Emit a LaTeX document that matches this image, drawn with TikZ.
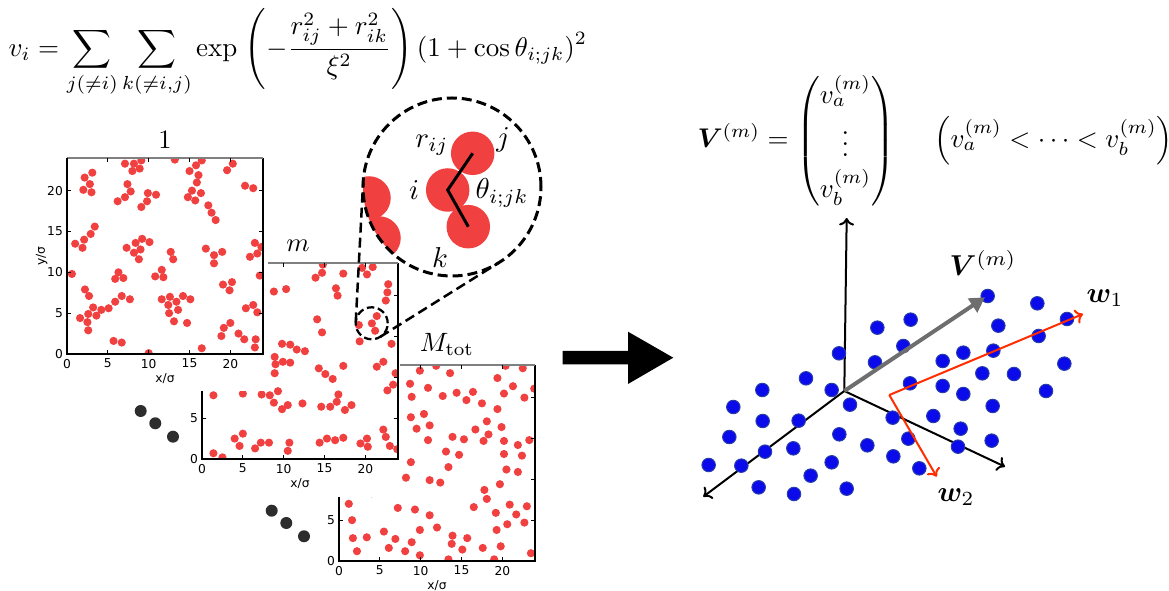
\documentclass[tikz,border=0pt]{standalone}
\usepackage{amsmath,bm}
\usepackage{fontspec}
\newfontfamily\tickfont{DejaVu Sans}
\usetikzlibrary{arrows.meta}
\definecolor{pred}{RGB}{240,64,64}
\definecolor{pblue}{RGB}{10,10,235}
\definecolor{pblueedge}{RGB}{40,60,170}
\definecolor{wred}{RGB}{255,45,0}
\definecolor{dotgray}{RGB}{45,45,45}
\definecolor{vgray}{RGB}{110,110,110}
\tikzset{
  part/.style={fill=pred},
  frame/.style={line width=0.5pt},
  tick/.style={font=\tickfont\fontsize{4.9}{5.8}\selectfont, inner sep=0pt},
  ttl/.style={inner sep=0pt, scale=1.06},
  lbl/.style={inner sep=0pt, scale=1.15},
  zoomc/.style={draw, circle, inner sep=0pt, outer sep=0pt, line width=1.2pt, dash pattern=on 4pt off 2pt},
  zoomline/.style={line width=1pt, dash pattern=on 4pt off 2pt},
  ell/.style={fill=dotgray},
  axis3/.style={line width=0.8pt, -{To[length=3pt,width=6pt]}},
  wline/.style={line width=0.8pt, wred, -{To[length=3pt,width=6pt]}},
  bdot/.style={fill=pblue, draw=pblueedge, line width=0.4pt},
}
\newcommand{\drawplot}[5]{%
\begin{scope}[shift={(#1,#2)}, x=3.267pt, y=3.267pt]
  \fill[white] #5;
  \begin{scope}
    \clip (0,0) rectangle (24,24);
    \foreach \a/\b in {#4} \fill[part] (\a,\b) circle[radius=0.5];
  \end{scope}
  \draw[frame] (0,24) -- (0,0) -- (24,0) -- (24,24);
  \draw[frame, black!50] (0,24) -- (24,24);
  \foreach \t in {0,5,10,15,20} {
    \draw[frame] (\t,0) -- (\t,0.45) (\t,24) -- (\t,23.55) (0,\t) -- (0.45,\t) (24,\t) -- (23.55,\t);
    \node[tick, anchor=north] (#3x\t) at (\t,-0.55) {\t};
    \node[tick, anchor=east] (#3y\t) at (-0.45,\t) {\t};
  }
  \node[tick, anchor=north] (#3xl) at (12,-2.3) {x/σ};
  \node[tick, rotate=90] (#3yl) at (-3.1,12) {y/σ};
\end{scope}}
\begin{document}
\begin{tikzpicture}[x=0.4pt,y=-0.4pt]
\useasboundingbox (0,0) rectangle (1169,591);

% ---- plot M_tot (bottom) ----
\drawplot{339}{561}{pM}{9.9/23.3,11.9/23.9,13.6/23.0,8.7/21.7,10.9/21.2,12.7/20.2,14.4/20.6,15.6/19.7,16.4/20.7,17.5/19.3,19.4/22.4,20.4/23.9,21.3/21.4,22.5/23.6,20.2/20.5,22.7/20.0,23.9/21.1,19.4/18.6,8.9/20.1,8.8/17.6,10.4/18.0,9.5/16.2,11.1/16.6,10.9/14.8,16.7/16.1,18.1/17.1,18.3/15.5,17.7/14.7,19.9/16.4,20.2/14.7,21.9/14.2,23.3/14.8,22.4/12.9,20.2/13.1,20.5/11.2,21.9/10.9,13.9/15.2,15.3/14.9,13.1/13.4,14.7/13.0,13.4/11.5,8.8/12.1,8.2/10.2,11.1/9.9,12.4/9.6,19.7/9.4,17.8/8.7,18.1/7.6,16.5/6.6,19.2/5.9,20.9/6.9,21.7/5.7,23.0/6.7,22.7/4.7,20.6/4.5,19.3/3.8,19.8/1.8,19.0/0.2,23.5/0.95,17.6/1.6,15.7/2.8,15.1/1.4,13.9/3.1,13.8/2.1,13.4/0.2,12.0/4.1,11.1/5.6,9.9/3.8,9.9/0.7,8.9/2.3,9.3/6.3,8.1/1.2,7.2/6.5,6.9/2.7,6.1/1.6,5.5/3.6,3.4/2.9,2.2/1.2,1.7/2.8,1.6/5.0,1.2/7.0,4.0/8.3}{(-3,-4.5) rectangle (24.3,25)}

% ---- plot m (middle) ----
\drawplot{202}{459}{pm}{14.8/23.8,14.7/22.8,13.9/22.2,17.3/22.7,19.6/23.4,20.2/22.6,20.9/23.5,22.8/21.4,22.7/20.4,22.5/19.4,16.4/20.9,16.6/20.0,8.8/20.5,10.3/20.8,14.1/17.1,14.7/15.5,21.4/17.5,20.8/16.6,21.2/15.7,19.2/16.4,19.3/14.4,23.2/14.1,9.8/14.1,10.8/14.0,11.6/13.4,12.6/13.2,8.9/12.5,9.0/11.6,9.9/11.9,10.8/11.8,8.9/10.5,14.3/11.1,15.1/10.4,16.0/9.8,17.3/11.4,21.4/11.3,22.2/11.9,23.7/10.5,23.4/9.1,22.7/8.4,1.4/7.8,5.0/8.0,7.3/7.9,8.3/7.8,9.3/8.3,8.8/6.9,9.8/6.1,10.5/6.6,12.3/6.8,14.6/6.4,15.7/6.4,16.5/7.0,16.7/7.9,17.5/6.0,18.3/6.6,22.2/3.6,22.5/2.7,23.0/1.6,23.9/1.2,4.0/2.5,5.0/3.1,4.6/1.6,6.5/1.3,7.2/2.0,8.2/2.0,10.7/2.0,10.5/1.0,14.4/2.0,15.3/2.5,16.3/2.3,17.3/2.6,19.4/1.9,20.2/2.5,20.3/1.5,1.4/0.7,2.5/0.2}{(-3,-4.65) rectangle (24.3,25.1)}

% ---- plot 1 (top) ----
\drawplot{67}{354}{p1}{2.16/21.6,3.1/22.2,2.8/20.8,2.0/20.1,3.0/19.8,7.1/23.3,8.2/23.3,9.1/23.7,8.0/22.4,8.9/22.7,7.4/20.8,7.8/19.9,7.1/19.2,6.2/18.7,9.9/19.7,10.9/19.5,9.8/18.7,9.1/18.0,13.2/23.8,15.0/22.4,15.8/23.1,16.5/23.7,16.1/21.9,15.9/21.0,15.3/20.0,16.4/19.7,14.8/19.2,15.7/18.8,19.6/22.5,20.3/23.3,21.8/20.6,22.8/20.3,17.3/18.2,17.7/17.3,18.2/16.4,3.4/15.6,2.9/14.7,2.1/14.0,1.0/13.5,1.9/13.0,7.3/13.0,8.4/13.6,9.2/14.1,10.1/13.7,9.0/12.8,8.2/12.4,8.8/11.6,12.7/12.5,13.0/11.6,17.0/12.9,18.0/12.1,19.0/12.5,18.0/11.1,23.0/13.6,23.8/13.1,23.3/12.3,22.4/11.9,23.6/9.6,0.6/9.8,6.3/10.0,5.9/9.2,6.9/9.3,11.6/10.3,10.8/9.5,11.8/9.4,2.2/7.9,2.7/7.1,3.2/5.7,2.6/4.9,1.6/4.4,2.5/3.9,2.6/2.9,3.6/4.7,4.2/5.4,5.1/5.6,5.9/6.4,6.7/7.1,7.7/6.7,11.6/6.7,12.6/7.0,12.4/6.0,13.4/6.4,14.2/7.1,15.1/6.7,12.5/5.0,13.6/5.4,13.1/4.0,14.7/3.8,19.1/8.5,20.2/8.8,19.9/7.8,21.9/5.6,22.8/6.0,23.3/5.1,20.0/3.8,19.2/3.2,18.9/2.2,21.0/2.5,21.7/1.8,23.1/1.8,23.0/0.8,5.7/1.6,6.7/1.4,10.0/0.1,16.5/0.7}{(-4,-4.5) rectangle (24.6,25)}

% ---- titles ----
\node[ttl] (t1) at (165,140) {$1$};
\node[ttl] (tm) at (298,246) {$m$};
\node[ttl] (tM) at (447,345) {$M_{\mathrm{tot}}$};

% ---- ellipsis dots ----
\fill[ell] (140.7,411) circle[radius=2.4pt];
\fill[ell] (155.3,423.3) circle[radius=2.4pt];
\fill[ell] (173,436.7) circle[radius=2.4pt];
\fill[ell] (271.7,510.7) circle[radius=2.4pt];
\fill[ell] (286.3,523) circle[radius=2.4pt];
\fill[ell] (304,536.3) circle[radius=2.4pt];

% ---- magnifier ----
\begin{scope}
  \clip (452,187) circle[radius=35.6pt];
  \fill[part] (369,198) circle[radius=8.7pt];
  \fill[part] (379,238) circle[radius=8.7pt];
\end{scope}
\node[circle, fill=pred, minimum size=17.4pt, inner sep=0pt] (pj) at (472.7,153.3) {};
\node[circle, fill=pred, minimum size=17.4pt, inner sep=0pt] (pi) at (447.7,190) {};
\node[circle, fill=pred, minimum size=17.4pt, inner sep=0pt] (pk) at (468.3,226.7) {};
\draw[line width=1.2pt] (pj.center) -- (pi.center) -- (pk.center);
\node[zoomc, minimum size=71.2pt] (zbig) at (452,187) {};
\node[zoomc, minimum size=12.8pt, line width=0.9pt, dash pattern=on 3pt off 1.5pt] (zsmall) at (371.7,323.3) {};
\draw[zoomline] (zsmall.177) -- (zbig.177);
\draw[zoomline] (zsmall.-58) -- (zbig.-58);
\node[lbl] (lrij) at (432,145) {$r_{ij}$};
\node[lbl] (lj) at (503,140) {$j$};
\node[lbl] (li) at (414,190) {$i$};
\node[lbl] (lth) at (502,193) {$\theta_{i;jk}$};
\node[lbl] (lk) at (440,258) {$k$};

% ---- formula top ----
\node[anchor=west, inner sep=0pt, scale=1.08] (fv) at (8,53) {$\displaystyle v_i=\sum_{j(\neq i)}\sum_{k(\neq i,j)}\exp\;\Biggl(-\frac{r_{ij}^2+r_{ik}^2}{\xi^2}\Biggr)\,(1+\cos\theta_{i;jk})^2$};

% ---- big arrow ----
\fill (562.7,351) -- (628,351) -- (628,331.7) -- (673.3,357.7) -- (628,384) -- (628,364.3) -- (562.7,364.3) -- cycle;

% ---- right formula ----
\node[anchor=west, inner sep=0pt, scale=1.08] (fV) at (697,141) {$\bm{V}^{(m)}=\begin{pmatrix} v_a^{(m)}\\[1pt] \vdots\\[1pt] v_b^{(m)}\end{pmatrix}\hspace{13pt}\Bigl(v_a^{(m)}<\cdots<v_b^{(m)}\Bigr)$};

% ---- 3D axes ----
\coordinate (O) at (844.3,391);
\coordinate (Az) at (846.7,218);
\coordinate (Ax) at (703.3,496.7);
\coordinate (Ay) at (1005,466.7);
\draw[axis3] (O) -- (Az);
\draw[axis3] (O) -- (Ax);
\draw[axis3] (O) -- (Ay);

\begin{scope}[shift={(690,210)}, x=0.13333pt, y=-0.13333pt]
  \foreach \a/\b in {893/258,1042/280,1131/327,562/353,662/329,925/347,1046/378,640/408,447/430,555/457,758/453,820/428,910/422,1123/461,348/505,217/540,425/540,660/520,758/528,820/552,877/490,972/492,1068/543,130/591,480/584,608/623,730/618,908/588,218/633,326/632,118/681,448/673,655/686,812/656,905/692,225/725,310/715,532/706,804/710,56/765,154/767,425/757,610/739,688/775,362/797,206/832,312/852,470/836}
    \filldraw[bdot] (\a,\b) circle[radius=2.7pt];
\end{scope}

\coordinate (Vend) at (985,297.3);
\draw[line width=1.6pt, vgray, -{Triangle[length=6pt,width=6.5pt]}] (O) -- (Vend);
\coordinate (C) at (889.3,395);
\coordinate (W1) at (1083,314);
\coordinate (W2) at (936.7,476.7);
\draw[wline] (C) -- (W1);
\draw[wline] (C) -- (W2);
\node[lbl] (lV) at (983,263) {$\bm{V}^{(m)}$};
\node[lbl] (lw1) at (1105,298) {$\bm{w}_1$};
\node[lbl] (lw2) at (956,497) {$\bm{w}_2$};
\end{tikzpicture}
\end{document}
